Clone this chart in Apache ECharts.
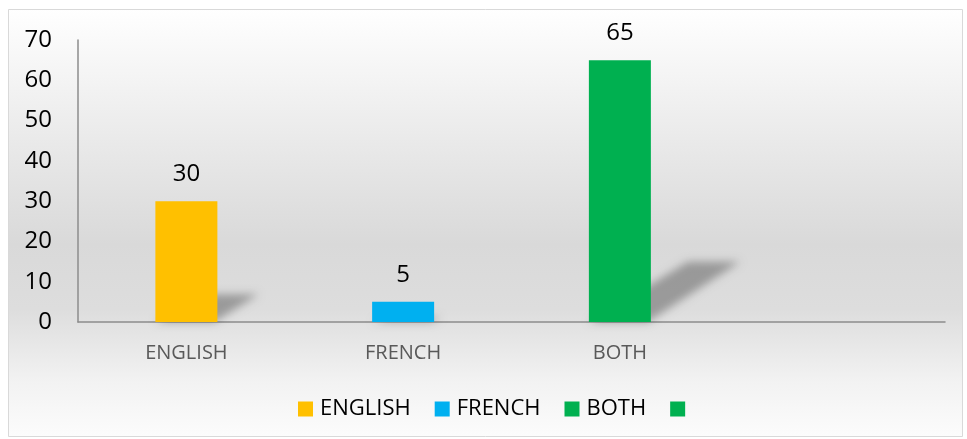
<!DOCTYPE html>
<html>
<head>
<meta charset="utf-8">
<script src="https://cdn.jsdelivr.net/npm/echarts@6/dist/echarts.min.js"></script>
<style>
html, body { margin: 0; padding: 0; background: #fff; }
#container1 { width: 967px; height: 439px; }
</style>
</head>
<body>
<div id="container1"></div>
<script>
var categories = ['ENGLISH', 'FRENCH', 'BOTH', ''];
var seriesNames = ['ENGLISH', 'FRENCH', 'BOTH', ' '];
var values = [30, 5, 65, null];
var colors = ['#FFC000', '#00B0F0', '#00B050', '#00B050'];
var yTicks = [0, 10, 20, 30, 40, 50, 60, 70];

var barW = 62;
var font = '"Open Sans", "Noto Sans", sans-serif';

var dom = document.getElementById("container1");
var myChart = echarts.init(dom);

var series = [];
// soft sheared shadow behind each bar (drawn off-canvas, only its blurred shadow shows)
var off = 3000;
series.push({
    type: 'custom',
    z: 1,
    silent: true,
    clip: false,
    data: values.map(function (v, i) { return [i, v == null ? 0 : v]; }),
    renderItem: function (params, api) {
        var base = api.coord([api.value(0), 0]);
        var top = api.coord([api.value(0), api.value(1)]);
        var h = base[1] - top[1];
        if (h <= 0) return null;
        var xl = base[0] - barW / 2 - off, xr = base[0] + barW / 2 - off, y0 = base[1];
        var dx = h * 0.34, dy = h * 0.23;
        return {
            type: 'polygon',
            shape: { points: [[xl, y0], [xr - 3, y0], [xr + dx, y0 - dy], [xl + dx + 10, y0 - dy]] },
            style: {
                fill: '#000',
                shadowBlur: 9,
                shadowOffsetX: off,
                shadowColor: 'rgba(0,0,0,0.3)'
            }
        };
    }
});
seriesNames.forEach(function (name, i) {
    var d = categories.map(function (c, j) { return j === i && values[i] != null ? values[i] : '-'; });
    series.push({
        name: name,
        type: 'bar',
        stack: 'all',
        z: 3,
        barWidth: barW,
        itemStyle: { color: colors[i] },
        label: {
            show: true,
            position: 'top',
            distance: 15,
            color: '#000',
            fontSize: 24,
            fontFamily: font
        },
        data: d
    });
});

option = {
    animation: false,
    graphic: [{
        type: 'rect',
        z: -10,
        shape: { x: 8.5, y: 9.5, width: 954, height: 427 },
        style: {
            fill: new echarts.graphic.LinearGradient(0, 0, 0, 1, [
                { offset: 0, color: '#ffffff' },
                { offset: 0.55, color: '#d9d9d9' },
                { offset: 0.7, color: '#dddddd' },
                { offset: 0.87, color: '#f2f2f2' },
                { offset: 1, color: '#fcfcfc' }
            ]),
            stroke: '#d9d9d9',
            lineWidth: 1
        }
    }],
    grid: {
        left: 78,
        right: 22,
        top: 40,
        bottom: 117
    },
    legend: {
        data: seriesNames,
        left: 293,
        top: 393,
        icon: 'rect',
        itemWidth: 15,
        itemHeight: 15,
        itemGap: 24,
        textStyle: { color: '#000', fontSize: 22, fontFamily: font, padding: [0, 0, 0, 2] }
    },
    xAxis: {
        type: 'category',
        data: categories,
        axisLine: { show: true, lineStyle: { color: '#8c8c8c', width: 1.5 } },
        axisTick: { show: false },
        splitLine: { show: false },
        axisLabel: { color: '#595959', fontSize: 20, fontFamily: font, margin: 21 }
    },
    yAxis: {
        type: 'value',
        min: 0,
        max: 70,
        interval: 10,
        axisLine: { show: true, lineStyle: { color: '#8c8c8c', width: 1.5 } },
        axisTick: { show: false },
        splitLine: { show: false },
        axisLabel: {
            color: '#000',
            fontSize: 24,
            fontFamily: font,
            margin: 26,
            formatter: function (v) { return yTicks.indexOf(v) >= 0 ? String(v) : ''; }
        }
    },
    series: series
};

if (option && typeof option === "object") {
    myChart.setOption(option, true);
}
</script>
</body>
</html>
